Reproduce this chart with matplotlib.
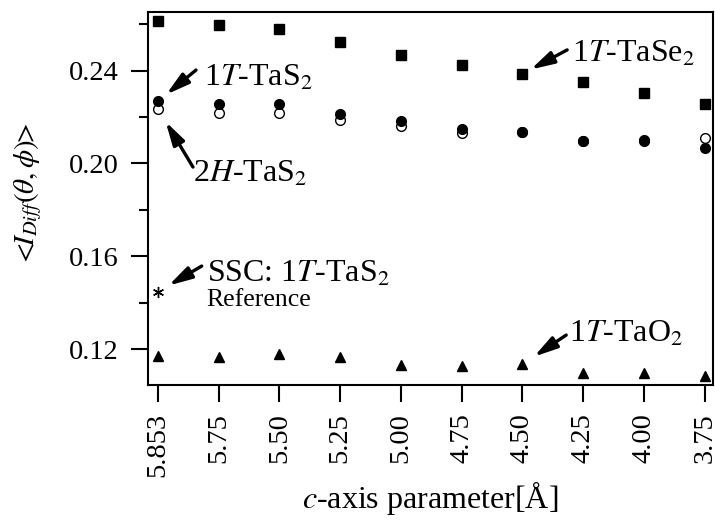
import matplotlib
matplotlib.use("Agg")
import matplotlib.pyplot as plt
import numpy as np

plt.rcParams['font.family'] = ['Liberation Serif', 'DejaVu Serif']
plt.rcParams['mathtext.fontset'] = 'stix'

# ---- data ----
tick_labels = ["5.853", "5.75", "5.50", "5.25", "5.00", "4.75", "4.50", "4.25", "4.00", "3.75"]
tase2 = [0.2616, 0.2598, 0.2580, 0.2523, 0.2468, 0.2425, 0.2386, 0.2351, 0.2305, 0.2255]
tas2_1t = [0.2268, 0.2255, 0.2255, 0.2213, 0.2183, 0.2147, 0.2137, 0.2097, 0.2095, 0.2065]
tas2_2h = [0.2235, 0.2219, 0.2219, 0.2187, 0.2161, 0.2130, 0.2137, 0.2097, 0.2101, 0.2108]
tao2 = [0.1171, 0.1167, 0.1178, 0.1167, 0.1130, 0.1127, 0.1134, 0.1095, 0.1095, 0.1083]
ssc_ref = [0.1447]
y_ticks = [0.12, 0.16, 0.20, 0.24]
y_minor = [0.14, 0.18, 0.22, 0.26]

x = np.arange(len(tick_labels))

fig = plt.figure(figsize=(7.15, 5.21), dpi=100)
ax = fig.add_axes([148/715, 1-385/521, (713-148)/715, (385-12)/521])

ax.plot(x, tase2, 's', color='k', ms=7.2, ls='none')
ax.plot(x, tas2_2h, 'o', mfc='white', mec='k', mew=1.0, ms=7.0, ls='none')
ax.plot(x, tas2_1t, 'o', color='k', ms=7.0, ls='none')
ax.plot(x, tao2, '^', color='k', ms=7.0, ls='none')
ax.plot(x[:1], ssc_ref, marker=(6, 2, 0), color='k', ms=8, mew=1.0, ls='none')

ax.set_xlim(-0.164, 9.137)
ax.set_ylim(0.1045, 0.2653)
ax.set_xticks(x)
ax.set_xticklabels(tick_labels, rotation=90, fontsize=20.5)
ax.set_yticks(y_ticks)
ax.set_yticklabels([f"{v:.2f}" for v in y_ticks], fontsize=20.5)
ax.set_yticks(y_minor, minor=True)
ax.tick_params(axis='y', which='major', direction='out', length=12, width=1.5, pad=9)
ax.tick_params(axis='x', which='major', direction='out', length=12, width=1.5, pad=8)
ax.tick_params(axis='y', which='minor', direction='out', length=6.3, width=1.5)
for s in ax.spines.values():
    s.set_linewidth(1.5)

ax.set_xlabel(r'$c$-axis parameter[Å]', fontsize=23)
ax.xaxis.set_label_coords(0.5, -(508 - 385) / 373)
ax.xaxis.label.set_va('baseline')
ax.set_ylabel(r'$<\!\!I_{Diff}(\theta,\phi)\!\!>$', fontsize=21)
ax.yaxis.set_label_coords(-(148 - 44) / 565, 0.509)

aprops = dict(arrowstyle='-|>,head_length=1.4,head_width=0.38', color='k', lw=2.4, shrinkA=0)

def arrow(xv, yv, dx, dy, shrink):
    p = dict(aprops)
    p['shrinkB'] = shrink
    ax.annotate('', xy=(xv, yv), xytext=(dx, dy), textcoords='offset points', arrowprops=p)

def label(xv, yv, dx, dy, s, fs):
    ax.annotate(s, xy=(xv, yv), xytext=(dx, dy), textcoords='offset points',
                ha='left', va='baseline', fontsize=fs)

# 1T-TaS2
arrow(x[0], tas2_1t[0], 27.4, 22.5, 7.6)
label(x[0], tas2_1t[0], 33, 11, r'1$T$-TaS$_2$', 23)
# 2H-TaS2
arrow(x[0], tas2_2h[0], 25.2, -41.8, 10.7)
label(x[0], tas2_2h[0], 25.2, -52.3, r'2$H$-TaS$_2$', 23)
# 1T-TaSe2
arrow(x[6], tase2[6], 32.2, 17.3, 6.7)
label(x[6], tase2[6], 36, 8.9, r'1$T$-TaSe$_2$', 23)
# SSC reference
arrow(x[0], ssc_ref[0], 31.5, 18.5, 8.8)
label(x[0], ssc_ref[0], 35, 7, r'SSC: 1$T$-TaS$_2$', 23)
label(x[0], ssc_ref[0], 35, -10.3, 'Reference', 18.5)
# 1T-TaO2
arrow(x[6], tao2[6], 31.5, 21.1, 10)
label(x[6], tao2[6], 33.8, 16.3, r'1$T$-TaO$_2$', 23)

fig.savefig('out.png', dpi=100)
